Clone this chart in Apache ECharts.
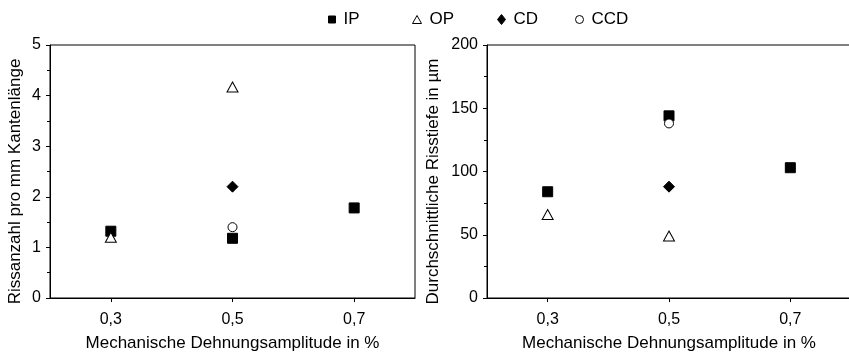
<!DOCTYPE html>
<html>
<head>
<meta charset="utf-8">
<script src="https://cdn.jsdelivr.net/npm/echarts@6/dist/echarts.min.js"></script>
<style>
  html, body { margin: 0; padding: 0; background: #fff; }
  #chart { width: 849px; height: 352px; }
</style>
</head>
<body>
<div id="chart"></div>
<script>
// Strain amplitudes (in %) and the values measured per test type
const xTicks = [0.3, 0.5, 0.7];
const seriesNames = ['IP', 'OP', 'CD', 'CCD'];

// Crack count per mm edge length
const countIP  = [[0.3, 1.32], [0.5, 1.18], [0.7, 1.78]];
const countOP  = [[0.3, 1.20], [0.5, 4.17]];
const countCD  = [[0.5, 2.20]];
const countCCD = [[0.5, 1.40]];

// Mean crack depth in µm
const depthIP  = [[0.3, 84], [0.5, 144], [0.7, 103]];
const depthOP  = [[0.3, 66], [0.5, 49]];
const depthCD  = [[0.5, 88]];
const depthCCD = [[0.5, 138]];

const font = 'Liberation Sans, Arial, sans-serif';
const black = '#000';

const styles = {
  IP:  { symbol: 'rect',     size: 10,      fill: black,  legendSize: [7, 7],  left: 323 },
  OP:  { symbol: 'triangle', size: [11, 10], fill: '#fff', legendSize: [9, 8],  left: 407 },
  CD:  { symbol: 'diamond',  size: 11,      fill: black,  legendSize: [8, 10], left: 492 },
  CCD: { symbol: 'circle',   size: 9,       fill: '#fff', legendSize: [8, 8],  left: 570 }
};

function makeSeries(name, data, idx) {
  const s = styles[name];
  return {
    name: name,
    type: 'scatter',
    xAxisIndex: idx,
    yAxisIndex: idx,
    data: data,
    symbol: s.symbol,
    symbolSize: s.size,
    itemStyle: { color: s.fill, borderColor: black, borderWidth: 1, opacity: 1 },
    emphasis: { disabled: true }
  };
}

function xAxis(gridIndex) {
  return {
    type: 'value', gridIndex: gridIndex,
    min: 0.2, max: 0.8, interval: 0.1,
    name: 'Mechanische Dehnungsamplitude in %',
    nameLocation: 'middle', nameGap: 37,
    nameTextStyle: { fontFamily: font, fontSize: 17, color: black },
    axisLine: { show: true, lineStyle: { color: black, width: 1 } },
    axisTick: { show: true, customValues: xTicks, length: 4, lineStyle: { color: black } },
    axisLabel: {
      customValues: xTicks, fontFamily: font, fontSize: 16, color: black, margin: 14,
      formatter: v => v.toFixed(1).replace('.', ',')
    },
    splitLine: { show: false }
  };
}

function yAxis(gridIndex, max, interval, name, gap) {
  return {
    type: 'value', gridIndex: gridIndex,
    min: 0, max: max, interval: interval,
    name: name, nameLocation: 'middle', nameGap: gap,
    // extra space at the end of the text moves the title slightly downward
    nameTextStyle: { fontFamily: font, fontSize: 17, color: black, padding: [0, 20, 0, 0] },
    axisLine: { show: true, lineStyle: { color: black, width: 1 } },
    axisTick: { show: true, length: 4, lineStyle: { color: black } },
    minorTick: { show: true, splitNumber: 2, length: 3, lineStyle: { color: black } },
    axisLabel: { fontFamily: font, fontSize: 16, color: black, margin: 9 },
    splitLine: { show: false }
  };
}

// one legend block per test type, laid out in a row across the top
const legends = seriesNames.map(n => ({
  top: 6, left: styles[n].left,
  itemWidth: styles[n].legendSize[0], itemHeight: styles[n].legendSize[1],
  textStyle: { fontFamily: font, fontSize: 17, color: black, padding: [0, 0, 0, 3] },
  selectedMode: false,
  data: [{ name: n, icon: styles[n].symbol,
    itemStyle: { color: styles[n].fill, borderColor: black, borderWidth: 1 } }]
}));

const chart = echarts.init(document.getElementById('chart'), null, { renderer: 'canvas' });
chart.setOption({
  animation: false,
  backgroundColor: '#fff',
  legend: legends,
  grid: [
    { left: 50, top: 45, width: 365, height: 253, outerBoundsMode: 'none',
      show: true, borderColor: black, borderWidth: 1 },
    { left: 487, top: 45, width: 364, height: 253, outerBoundsMode: 'none',
      show: true, borderColor: black, borderWidth: 1 }
  ],
  xAxis: [xAxis(0), xAxis(1)],
  yAxis: [
    yAxis(0, 5, 1, 'Rissanzahl pro mm Kantenlänge', 26),
    yAxis(1, 200, 50, 'Durchschnittliche Risstiefe in µm', 45)
  ],
  series: [
    makeSeries('IP', countIP, 0),
    makeSeries('OP', countOP, 0),
    makeSeries('CD', countCD, 0),
    makeSeries('CCD', countCCD, 0),
    makeSeries('IP', depthIP, 1),
    makeSeries('OP', depthOP, 1),
    makeSeries('CD', depthCD, 1),
    makeSeries('CCD', depthCCD, 1)
  ]
});
</script>
</body>
</html>
